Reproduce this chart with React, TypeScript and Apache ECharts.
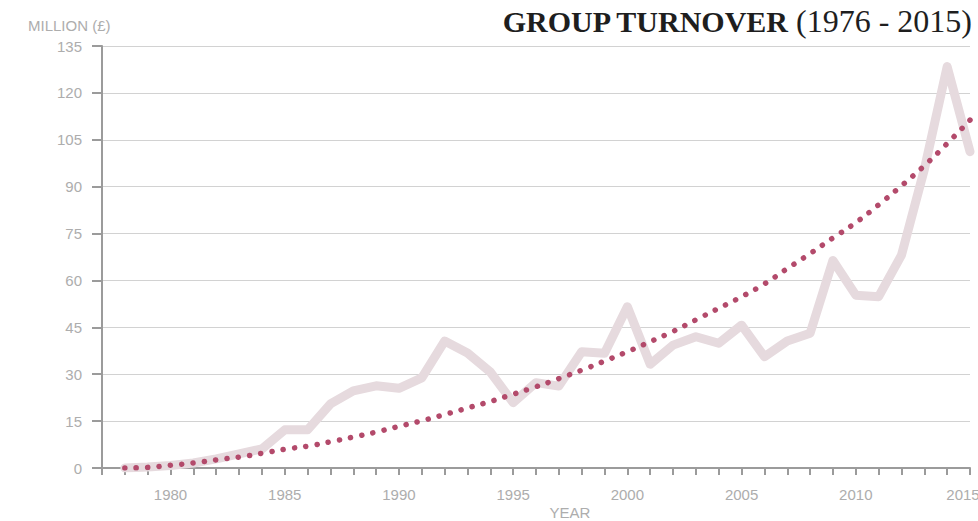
import React, { useEffect, useRef } from "react";
import * as echarts from "echarts";

const years: number[] = [
  1978, 1979, 1980, 1981, 1982, 1983, 1984, 1985, 1986, 1987, 1988, 1989, 1990,
  1991, 1992, 1993, 1994, 1995, 1996, 1997, 1998, 1999, 2000, 2001, 2002, 2003,
  2004, 2005, 2006, 2007, 2008, 2009, 2010, 2011, 2012, 2013, 2014, 2015,
];

const turnover: number[] = [
  0, 0.3, 0.8, 1.6, 2.9, 4.5, 6.1, 12.2, 12.2, 20.5, 24.7, 26.3, 25.5,
  28.8, 40.6, 36.8, 30.7, 20.9, 27.3, 26.2, 37.2, 36.7, 51.6, 33.2, 39.3, 42.0,
  39.9, 45.7, 35.6, 40.6, 43.1, 66.4, 55.3, 54.8, 68.1, 95.5, 128.4, 101.2,
];

const trend: number[] = [
  0, 0.2, 0.9, 1.6, 2.6, 3.5, 4.7, 6.0, 7.0, 8.4, 9.9, 11.5, 13.3,
  15.1, 17.1, 19.2, 21.3, 23.6, 26.0, 28.6, 31.3, 34.2, 37.2, 40.4, 43.7, 47.4,
  51.1, 54.8, 58.9, 63.8, 68.6, 73.6, 78.5, 84.2, 90.3, 96.7, 103.8, 111.3,
];

const yTicks = { min: 0, max: 135, interval: 15 };
const xRange = { min: 1977, max: 2015 };

export default function App() {
  const ref = useRef<HTMLDivElement>(null);
  useEffect(() => {
    document.body.style.margin = "0";
    if (!ref.current) return;
    const chart = echarts.init(ref.current, undefined, { renderer: "svg" });
    const font = "'Liberation Sans', Arial, sans-serif";
    chart.setOption({
      animation: false,
      grid: { left: 102, right: 8, top: 46, bottom: 53, outerBoundsMode: "none", containLabel: false },
      xAxis: {
        type: "value",
        min: xRange.min,
        max: xRange.max,
        interval: 1,
        axisLine: { show: true, lineStyle: { color: "#9b9b9b", width: 2 } },
        axisTick: { show: true, length: 7, lineStyle: { color: "#9b9b9b", width: 2 } },
        splitLine: { show: false },
        axisLabel: {
          color: "#adadad",
          fontSize: 15,
          fontFamily: font,
          margin: 19,
          showMaxLabel: true,
          hideOverlap: false,
          formatter: (v: number) =>
            v === xRange.max ? `{last|${v}}` : v % 5 === 0 ? String(v) : "",
          rich: {
            last: {
              color: "#adadad",
              fontSize: 15,
              fontFamily: font,
              padding: [0, 14, 0, 0],
            },
          },
        },
      },
      yAxis: {
        type: "value",
        min: yTicks.min,
        max: yTicks.max,
        interval: yTicks.interval,
        axisLine: { show: true, lineStyle: { color: "#9b9b9b", width: 2 } },
        axisTick: { show: true, length: 10, lineStyle: { color: "#9b9b9b", width: 2 } },
        splitLine: { show: true, lineStyle: { color: "#d2d2d2", width: 1 } },
        axisLabel: { color: "#adadad", fontSize: 15, fontFamily: font, margin: 20 },
      },
      graphic: [
        {
          type: "text",
          x: 28,
          y: 25,
          style: {
            text: "MILLION (£)",
            fill: "#adadad",
            font: `15px ${font}`,
            verticalAlign: "middle",
            align: "left",
          },
        },
        {
          type: "text",
          x: 570,
          y: 512,
          style: {
            text: "YEAR",
            fill: "#adadad",
            font: `15px ${font}`,
            verticalAlign: "middle",
            align: "center",
          },
        },
        {
          type: "text",
          x: 972,
          y: 21,
          style: {
            text: "{b|GROUP TURNOVER}{r| (1976 - 2015)}",
            align: "right",
            verticalAlign: "middle",
            rich: {
              b: {
                fontFamily: "'Liberation Serif', 'DejaVu Serif', serif",
                fontWeight: "bold",
                fontSize: 30,
                fill: "#1e1e1e",
              },
              r: {
                fontFamily: "'Liberation Serif', 'DejaVu Serif', serif",
                fontSize: 32,
                fill: "#1e1e1e",
              },
            },
          },
        },
      ],
      series: [
        {
          name: "Turnover",
          type: "line",
          data: years.map((y, i) => [y, turnover[i]]),
          showSymbol: false,
          symbol: "none",
          lineStyle: { color: "#e6dade", width: 9, cap: "round", join: "round" },
          z: 2,
        },
        {
          name: "Trend",
          type: "line",
          data: years.map((y, i) => [y, trend[i]]),
          smooth: true,
          showSymbol: false,
          symbol: "none",
          lineStyle: {
            color: "#b34a6b",
            width: 5.5,
            type: [0.1, 11.3],
            cap: "round",
          },
          z: 3,
        },
      ],
    });
    return () => chart.dispose();
  }, []);
  return <div ref={ref} style={{ width: 978, height: 521 }} />;
}
